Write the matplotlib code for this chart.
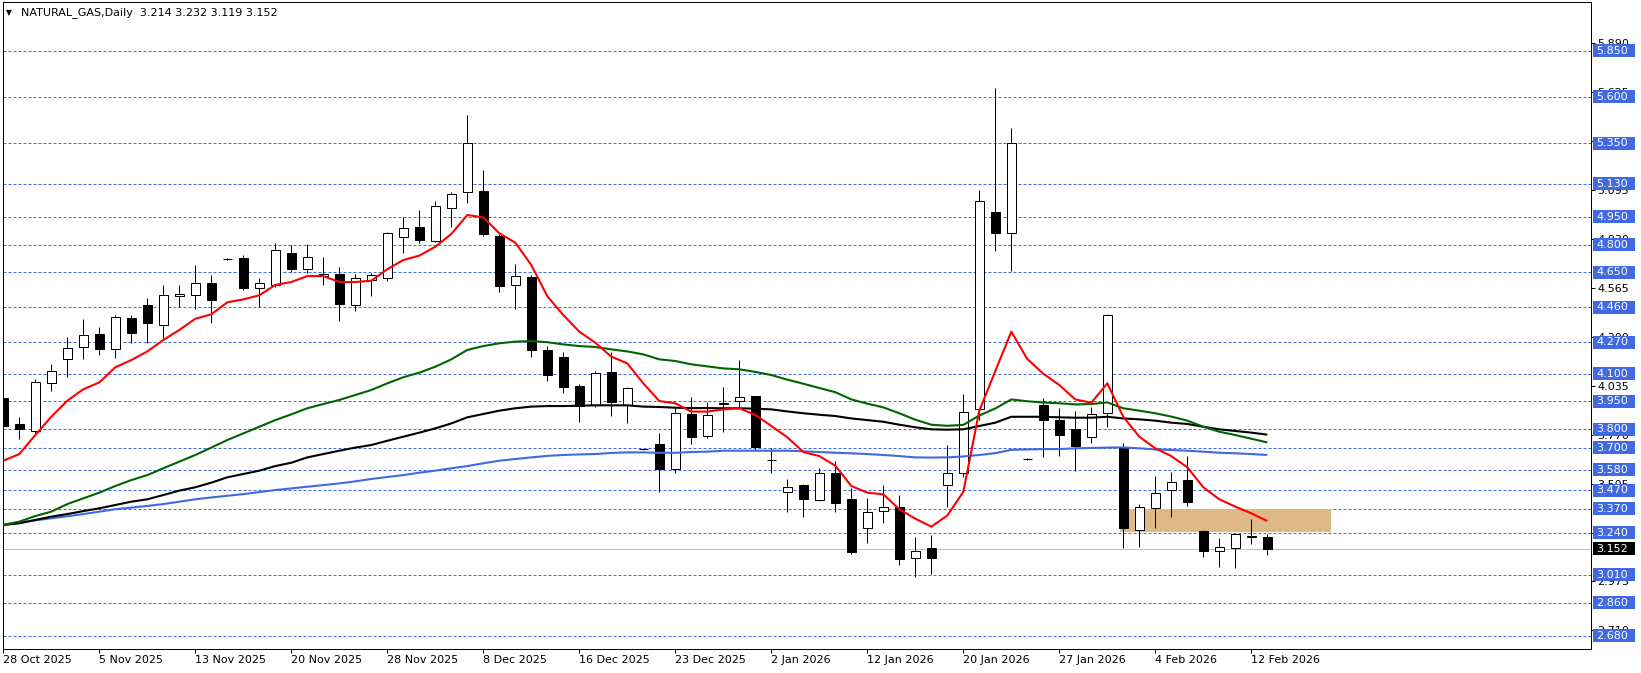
import matplotlib
matplotlib.use('Agg')
import matplotlib.pyplot as plt
from matplotlib.patches import Rectangle
from matplotlib.transforms import blended_transform_factory
import numpy as np

# ---------------- data ----------------
opens = [3.967, 3.828, 3.790, 4.048, 4.178, 4.243, 4.313, 4.232, 4.400, 4.471,
         4.362, 4.519, 4.528, 4.592, 4.720, 4.725, 4.563, 4.582, 4.752, 4.666,
         4.628, 4.640, 4.471, 4.610, 4.617, 4.839, 4.895, 4.821, 4.996, 5.083,
         5.090, 4.846, 4.579, 4.626, 4.229, 4.191, 4.034, 3.931, 4.109, 3.931,
         3.690, 3.718, 3.582, 3.882, 3.765, 3.937, 3.954, 3.979, 3.632, 3.458,
         3.497, 3.418, 3.561, 3.421, 3.266, 3.355, 3.376, 3.100, 3.154, 3.496,
         3.561, 3.907, 4.974, 4.861, 3.637, 3.929, 3.848, 3.799, 3.755, 3.886,
         3.705, 3.254, 3.371, 3.470, 3.522, 3.250, 3.140, 3.154, 3.218, 3.214]
highs = [3.975, 3.868, 4.071, 4.153, 4.297, 4.397, 4.351, 4.418, 4.418, 4.510,
         4.581, 4.581, 4.689, 4.635, 4.726, 4.741, 4.619, 4.806, 4.797, 4.801,
         4.731, 4.676, 4.640, 4.648, 4.870, 4.951, 4.987, 5.037, 5.086, 5.500,
         5.204, 4.857, 4.694, 4.635, 4.250, 4.216, 4.044, 4.117, 4.216, 4.026,
         3.695, 3.777, 3.918, 3.972, 3.949, 4.026, 4.174, 3.980, 3.696, 3.530,
         3.503, 3.588, 3.627, 3.479, 3.425, 3.497, 3.443, 3.214, 3.226, 3.714,
         3.988, 5.095, 5.646, 5.429, 3.642, 3.967, 3.913, 3.898, 3.922, 4.424,
         3.727, 3.394, 3.546, 3.566, 3.654, 3.252, 3.208, 3.239, 3.312, 3.232]
lows = [3.810, 3.748, 3.781, 4.008, 4.084, 4.180, 4.203, 4.187, 4.268, 4.265,
        4.292, 4.460, 4.453, 4.377, 4.716, 4.552, 4.460, 4.570, 4.651, 4.644,
        4.582, 4.387, 4.442, 4.523, 4.604, 4.756, 4.806, 4.814, 4.893, 5.023,
        4.848, 4.545, 4.453, 4.192, 4.062, 3.994, 3.840, 3.918, 3.873, 3.835,
        3.688, 3.461, 3.561, 3.719, 3.750, 3.783, 3.918, 3.687, 3.561, 3.353,
        3.322, 3.411, 3.353, 3.124, 3.185, 3.293, 3.064, 3.001, 3.015, 3.376,
        3.543, 3.850, 4.767, 4.658, 3.635, 3.647, 3.656, 3.575, 3.727, 3.813,
        3.154, 3.163, 3.263, 3.326, 3.385, 3.106, 3.055, 3.050, 3.176, 3.119]
closes = [3.817, 3.800, 4.053, 4.113, 4.238, 4.308, 4.236, 4.406, 4.319, 4.373,
          4.525, 4.530, 4.590, 4.501, 4.723, 4.566, 4.590, 4.768, 4.669, 4.731,
          4.638, 4.480, 4.617, 4.633, 4.860, 4.888, 4.823, 5.007, 5.074, 5.348,
          4.859, 4.577, 4.628, 4.229, 4.095, 4.030, 3.925, 4.102, 3.947, 4.021,
          3.693, 3.584, 3.886, 3.759, 3.875, 3.940, 3.972, 3.701, 3.635, 3.485,
          3.423, 3.561, 3.402, 3.136, 3.349, 3.376, 3.098, 3.138, 3.104, 3.561,
          3.891, 5.034, 4.861, 5.348, 3.640, 3.848, 3.770, 3.710, 3.880, 4.416,
          3.263, 3.376, 3.452, 3.512, 3.403, 3.138, 3.160, 3.230, 3.222, 3.152]

ma_red = [3.629, 3.665, 3.768, 3.867, 3.954, 4.016, 4.053, 4.135, 4.174, 4.221,
          4.283, 4.337, 4.398, 4.422, 4.487, 4.503, 4.525, 4.581, 4.597, 4.629,
          4.629, 4.597, 4.597, 4.604, 4.666, 4.716, 4.740, 4.788, 4.857, 4.960,
          4.947, 4.861, 4.810, 4.689, 4.520, 4.418, 4.328, 4.268, 4.193, 4.156,
          4.048, 3.952, 3.940, 3.895, 3.895, 3.907, 3.913, 3.877, 3.817, 3.756,
          3.676, 3.654, 3.602, 3.492, 3.456, 3.447, 3.366, 3.315, 3.272, 3.332,
          3.460, 3.900, 4.115, 4.328, 4.180, 4.100, 4.039, 3.961, 3.943, 4.048,
          3.867, 3.759, 3.696, 3.654, 3.593, 3.485, 3.420, 3.380, 3.344, 3.302]
ma_green = [3.281, 3.299, 3.329, 3.353, 3.394, 3.425, 3.456, 3.492, 3.524, 3.551,
            3.588, 3.624, 3.660, 3.700, 3.741, 3.777, 3.813, 3.849, 3.880, 3.913,
            3.936, 3.958, 3.985, 4.012, 4.048, 4.081, 4.106, 4.138, 4.178, 4.229,
            4.250, 4.265, 4.274, 4.277, 4.271, 4.259, 4.250, 4.245, 4.232, 4.221,
            4.205, 4.178, 4.169, 4.151, 4.140, 4.129, 4.124, 4.110, 4.093, 4.068,
            4.046, 4.023, 4.000, 3.961, 3.938, 3.918, 3.886, 3.851, 3.824, 3.818,
            3.823, 3.874, 3.912, 3.961, 3.951, 3.944, 3.940, 3.934, 3.936, 3.945,
            3.913, 3.900, 3.886, 3.868, 3.846, 3.813, 3.786, 3.768, 3.748, 3.728]
ma_black = [3.281, 3.290, 3.308, 3.326, 3.340, 3.356, 3.371, 3.389, 3.407, 3.420,
            3.443, 3.467, 3.485, 3.510, 3.539, 3.557, 3.575, 3.600, 3.618, 3.647,
            3.665, 3.683, 3.700, 3.714, 3.737, 3.759, 3.781, 3.804, 3.831, 3.864,
            3.882, 3.900, 3.913, 3.922, 3.925, 3.925, 3.927, 3.929, 3.929, 3.929,
            3.922, 3.920, 3.916, 3.914, 3.914, 3.913, 3.913, 3.911, 3.907, 3.896,
            3.886, 3.878, 3.871, 3.858, 3.849, 3.840, 3.824, 3.810, 3.799, 3.797,
            3.799, 3.817, 3.835, 3.867, 3.867, 3.867, 3.864, 3.862, 3.862, 3.867,
            3.858, 3.853, 3.846, 3.835, 3.828, 3.813, 3.799, 3.790, 3.781, 3.770]
ma_blue = [3.281, 3.293, 3.306, 3.317, 3.328, 3.340, 3.353, 3.366, 3.375, 3.384,
           3.394, 3.407, 3.420, 3.430, 3.439, 3.448, 3.459, 3.470, 3.479, 3.488,
           3.497, 3.506, 3.517, 3.530, 3.541, 3.551, 3.564, 3.575, 3.588, 3.600,
           3.615, 3.629, 3.638, 3.647, 3.655, 3.660, 3.663, 3.665, 3.671, 3.674,
           3.674, 3.672, 3.672, 3.676, 3.678, 3.683, 3.683, 3.683, 3.683, 3.683,
           3.680, 3.676, 3.672, 3.669, 3.665, 3.660, 3.654, 3.647, 3.646, 3.647,
           3.652, 3.660, 3.670, 3.688, 3.690, 3.692, 3.692, 3.696, 3.698, 3.700,
           3.701, 3.696, 3.690, 3.687, 3.683, 3.678, 3.672, 3.669, 3.665, 3.660]

date_labels = ['28 Oct 2025', '5 Nov 2025', '13 Nov 2025', '20 Nov 2025',
               '28 Nov 2025', '8 Dec 2025', '16 Dec 2025', '23 Dec 2025',
               '2 Jan 2026', '12 Jan 2026', '20 Jan 2026', '27 Jan 2026',
               '4 Feb 2026', '12 Feb 2026']
date_label_bars = [0, 6, 12, 18, 24, 30, 36, 42, 48, 54, 60, 66, 72, 78]

level_lines = [5.850, 5.600, 5.350, 5.130, 4.950, 4.800, 4.650, 4.460, 4.270,
               4.100, 3.950, 3.800, 3.700, 3.580, 3.470, 3.370, 3.240, 3.010,
               2.860, 2.680]
axis_ticks = [5.890, 5.625, 5.360, 5.095, 4.830, 4.565, 4.300, 4.035, 3.770,
              3.505, 3.240, 2.975, 2.710]
current_price = 3.152
zone_bars = (69.8, 83.0)
zone_prices = (3.245, 3.370)
symbol_title = 'NATURAL_GAS,Daily'

# ---------------- figure ----------------
W, H, DPI = 1641, 673, 100
plt.rcParams['font.family'] = ['DejaVu Sans']
fig = plt.figure(figsize=(W / DPI, H / DPI), dpi=DPI)
fig.patch.set_facecolor('white')

PL, PR, PT, PB = 2.7, 1591.0, 2.0, 649.0
ax = fig.add_axes([PL / W, 1 - PB / H, (PR - PL) / W, (PB - PT) / H])
ax.set_facecolor('white')
ax.set_xlim(-0.0375, 99.23)
ax.set_ylim(2.609, 6.1138)

px = 0.72  # one pixel in points
level_color = '#4169E1'

# horizontal levels
for v in level_lines:
    ax.axhline(v, color=level_color, lw=px, dashes=(3, 2), zorder=1)
ax.axhline(current_price, color='#C0C0C0', lw=px, zorder=1)

# zone rectangle
ax.add_patch(Rectangle((zone_bars[0], zone_prices[0]), zone_bars[1] - zone_bars[0],
                       zone_prices[1] - zone_prices[0], facecolor='#DEB887',
                       edgecolor='none', zorder=1.6))

# candles
x = np.arange(len(closes))
o = np.array(opens); c = np.array(closes); h = np.array(highs); l = np.array(lows)
ax.vlines(x, l, h, color='black', lw=px, zorder=2.8)
up = c >= o
bw = 0.6
ax.bar(x[up], (c - o)[up], bottom=o[up], width=bw, facecolor='white',
       edgecolor='black', linewidth=px, zorder=3)
ax.bar(x[~up], (o - c)[~up], bottom=c[~up], width=bw, facecolor='black',
       edgecolor='black', linewidth=px, zorder=3)

# moving averages
ax.plot(x, ma_blue, color='#3F6BE0', lw=1.5, zorder=4, solid_capstyle='butt')
ax.plot(x, ma_black, color='black', lw=1.5, zorder=4.1, solid_capstyle='butt')
ax.plot(x, ma_green, color='#006400', lw=1.5, zorder=4.2, solid_capstyle='butt')
ax.plot(x, ma_red, color='#FF0000', lw=1.5, zorder=4.3, solid_capstyle='butt')

# spines
for s in ax.spines.values():
    s.set_color('black')
    s.set_linewidth(px)

# x axis
ax.set_xticks(date_label_bars)
ax.set_xticklabels(date_labels)
ax.tick_params(axis='x', direction='out', length=2.9, width=px, pad=1.6,
               labelsize=8, colors='black')
for lbl in ax.get_xticklabels():
    lbl.set_ha('left')

# y axis (right)
ax.yaxis.tick_right()
ax.set_yticks(axis_ticks)
ax.set_yticklabels([f'{v:.3f}' for v in axis_ticks])
ax.tick_params(axis='y', direction='out', length=2.9, width=px, pad=1.6,
               labelsize=8, colors='black')

trans = blended_transform_factory(ax.transAxes, ax.transData)
axw = PR - PL
ppu = (PB - PT) / (6.1138 - 2.609)
box_h = 13.0 / ppu
bx0 = 1 + 2.0 / axw
bwid = 42.0 / axw
tx0 = 1 + 5.5 / axw
for v in level_lines:
    ax.add_patch(Rectangle((bx0, v - box_h / 2), bwid, box_h, transform=trans,
                           facecolor=level_color, edgecolor='none',
                           clip_on=False, zorder=6))
    ax.text(tx0, v, f'{v:.3f}', transform=trans, color='white', fontsize=8,
            va='center', ha='left', clip_on=False, zorder=7)
ax.add_patch(Rectangle((bx0, current_price - box_h / 2), bwid, box_h,
                       transform=trans, facecolor='black', edgecolor='none',
                       clip_on=False, zorder=6))
ax.text(tx0, current_price, f'{current_price:.3f}', transform=trans,
        color='white', fontsize=8, va='center', ha='left', clip_on=False,
        zorder=7)

# title
fig.text(5.5 / W, 1 - 12.5 / H, '\u25BC', fontsize=5.5, va='center', ha='left',
         color='black')
title = (f'{symbol_title}  {opens[-1]:.3f} {highs[-1]:.3f} '
         f'{lows[-1]:.3f} {closes[-1]:.3f}')
fig.text(21 / W, 1 - 12.5 / H, title, fontsize=8, va='center', ha='left',
         color='black')

fig.savefig('out.png', dpi=DPI, facecolor='white')
